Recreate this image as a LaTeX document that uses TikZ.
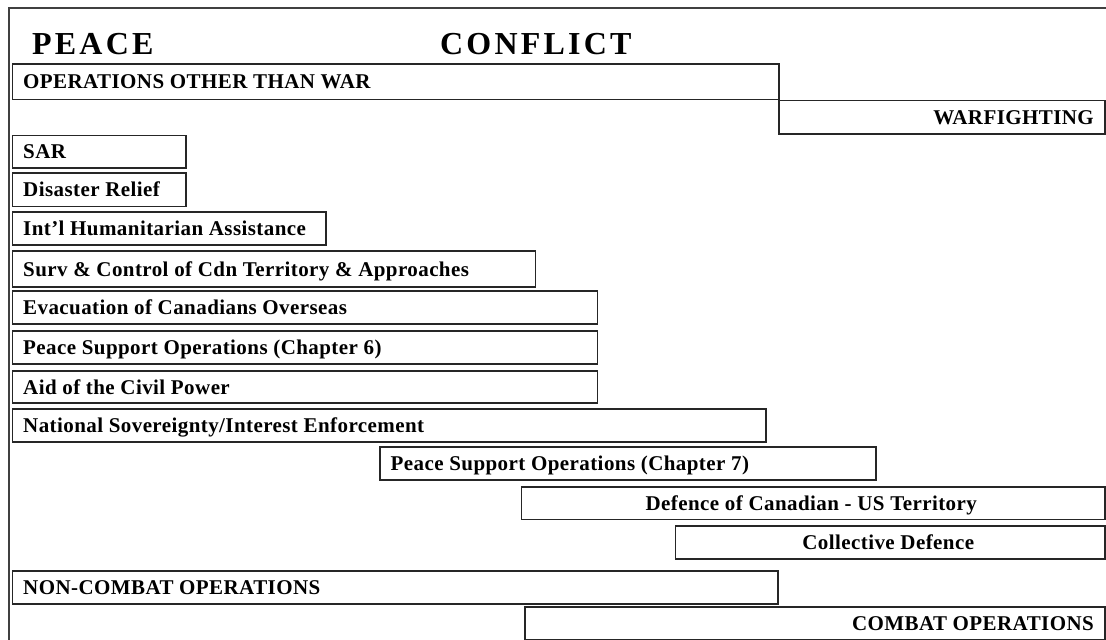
\documentclass[tikz,border=0pt]{standalone}
\usepackage{fontspec}
\setmainfont{Liberation Serif}
\begin{document}
\begin{tikzpicture}[x=1pt,y=-1pt,
  box/.style={draw=black!85,line width=1.3pt,rectangle,inner sep=0pt,outer sep=0pt},
  lbl/.style={inner sep=0pt,font=\fontsize{21}{23}\selectfont\bfseries\addfontfeatures{LetterSpace=2}},
  head/.style={inner sep=0pt,font=\fontsize{32}{36}\selectfont\bfseries\addfontfeatures{LetterSpace=10}}]
\useasboundingbox (0,0) rectangle (1106,640);
% frame
\coordinate (ftl) at (8.5,8);
\coordinate (ftr) at (1106,8);
\coordinate (fbl) at (8.5,640);
\draw[black!75,line width=2pt] (fbl) -- (ftl) -- (ftr);
% headings
\node[head,anchor=base west] (peace) at (32,54.5) {PEACE};
\node[head,anchor=base west] (conflict) at (440,54.5) {CONFLICT};
% box macro: name, x1, y1, x2, y2
\newcommand\mybox[5]{%
  \node[box,anchor=north west,minimum width={(#4-#2)*1pt},minimum height={(#5-#3)*1pt}] (#1) at (#2,#3) {};}
\mybox{otw}{12.5}{64}{779}{99.5}
\mybox{warf}{779}{100.5}{1105}{134}
\mybox{sar}{12.5}{135.5}{186}{168}
\mybox{dr}{12.5}{173}{186}{206.5}
\mybox{iha}{12.5}{212}{326}{245}
\mybox{surv}{12.5}{251}{535.5}{287}
\mybox{evac}{12.5}{291}{597.5}{324}
\mybox{psosix}{12.5}{331}{597.5}{364}
\mybox{aid}{12.5}{371}{597.5}{403}
\mybox{natsov}{12.5}{409}{766}{442}
\mybox{psoseven}{380}{447}{876}{480}
\mybox{def}{521.5}{487}{1105}{519.5}
\mybox{coll}{675.5}{526}{1105}{559}
\mybox{nonc}{12.5}{571}{778}{604}
\mybox{comb}{525}{607}{1105}{639.5}
% labels
\newcommand\ltext[2]{\node[lbl,anchor=base west] (#1-t) at ([xshift=10.5pt,yshift=-7pt]#1.west) {#2};}
\newcommand\rtext[2]{\node[lbl,anchor=base east] (#1-t) at ([xshift=-11pt,yshift=-7pt]#1.east) {#2};}
\newcommand\ctext[2]{\node[lbl,anchor=base] (#1-t) at ([xshift=-2pt,yshift=-7pt]#1.center) {#2};}
\ltext{otw}{OPERATIONS OTHER THAN WAR}
\rtext{warf}{WARFIGHTING}
\ltext{sar}{SAR}
\ltext{dr}{Disaster Relief}
\ltext{iha}{Int’l Humanitarian Assistance}
\ltext{surv}{Surv \& Control of Cdn Territory \& Approaches}
\ltext{evac}{Evacuation of Canadians Overseas}
\ltext{psosix}{Peace Support Operations (Chapter 6)}
\ltext{aid}{Aid of the Civil Power}
\ltext{natsov}{National Sovereignty/Interest Enforcement}
\ltext{psoseven}{Peace Support Operations (Chapter 7)}
\ctext{def}{Defence of Canadian - US Territory}
\ctext{coll}{Collective Defence}
\ltext{nonc}{NON-COMBAT OPERATIONS}
\rtext{comb}{COMBAT OPERATIONS}
\end{tikzpicture}
\end{document}
